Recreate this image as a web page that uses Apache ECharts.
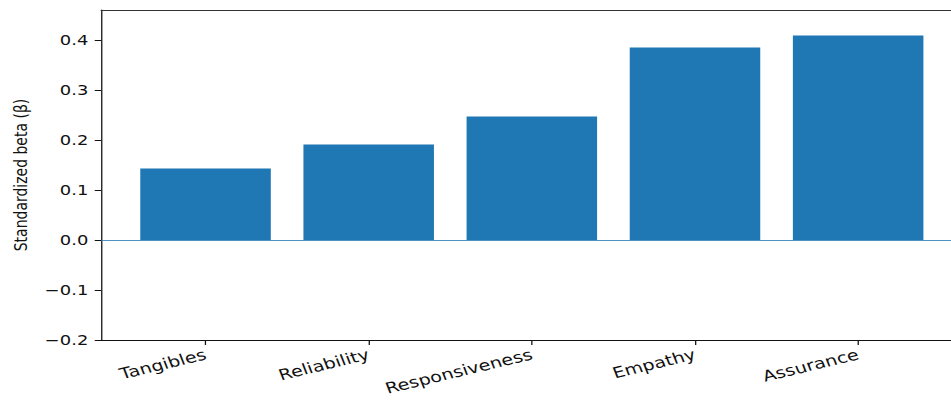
<!DOCTYPE html>
<html>
<head>
<meta charset="utf-8">
<script src="https://cdn.jsdelivr.net/npm/echarts@6/dist/echarts.min.js"></script>
<style>
html, body { margin: 0; padding: 0; background: #fff; }
#wrap { width: 951px; height: 404px; overflow: hidden; }
/* the source picture is stretched sideways, so the chart is drawn narrow and widened */
#main { width: 752px; height: 404px; transform: scaleX(1.28); transform-origin: 0 0; }
</style>
</head>
<body>
<div id="wrap"><div id="main"></div></div>
<script>
var categories = ['Tangibles', 'Reliability', 'Responsiveness', 'Empathy', 'Assurance'];
var betaValues = [0.143, 0.191, 0.247, 0.385, 0.409];
var yTicks = [-0.2, -0.1, 0.0, 0.1, 0.2, 0.3, 0.4];
var xTicks = [0, 1, 2, 3, 4];

var barBlue = '#1f77b4';
var ink = '#111';
var fontName = 'DejaVu Sans';

function tickText(v){
	var s = Math.abs(v).toFixed(1);
	return v < -1e-9 ? '\u2212' + s : s;
}

var barData = betaValues.map(function(v, i){ return [i, v]; });

var option = {
	animation: false,
	grid: {
		left: 79,
		right: 0,
		top: 10,
		bottom: 64
	},
	xAxis: [{
		type: 'value',
		min: -0.64,
		max: 4.64,
		splitLine: { show: false },
		axisLine: { show: true, onZero: false, lineStyle: { color: ink, width: 1 } },
		axisTick: { show: true, customValues: xTicks, length: 5, lineStyle: { color: ink } },
		axisLabel: {
			customValues: xTicks,
			rotate: 17,
			margin: 14,
			fontFamily: fontName,
			fontSize: 15,
			color: ink,
			formatter: function(v){ return categories[Math.round(v)] || ''; }
		}
	}, {
		type: 'value',
		position: 'top',
		min: -0.64,
		max: 4.64,
		splitLine: { show: false },
		axisLine: { show: true, onZero: false, lineStyle: { color: '#333', width: 1 } },
		axisTick: { show: false },
		axisLabel: { show: false }
	}],
	yAxis: {
		type: 'value',
		min: -0.2,
		max: 0.46,
		name: 'Standardized beta (\u03b2)',
		nameLocation: 'middle',
		nameGap: 56,
		nameTextStyle: { fontFamily: fontName, fontSize: 14, color: ink },
		splitLine: { show: false },
		axisLine: { show: true, onZero: false, lineStyle: { color: ink, width: 1 } },
		axisTick: { show: true, customValues: yTicks, length: 5, lineStyle: { color: ink } },
		axisLabel: {
			customValues: yTicks,
			margin: 10,
			fontFamily: fontName,
			fontSize: 14,
			color: ink,
			formatter: tickText
		}
	},
	series: [{
		type: 'bar',
		xAxisIndex: 0,
		data: barData,
		barWidth: '80%',
		itemStyle: { color: barBlue },
		markLine: {
			silent: true,
			symbol: 'none',
			label: { show: false },
			lineStyle: { color: barBlue, type: 'solid', width: 1, opacity: 0.8 },
			data: [{ yAxis: 0 }]
		}
	}]
};

var chart = echarts.init(document.getElementById('main'), null, { renderer: 'svg' });
chart.setOption(option);
</script>
</body>
</html>
